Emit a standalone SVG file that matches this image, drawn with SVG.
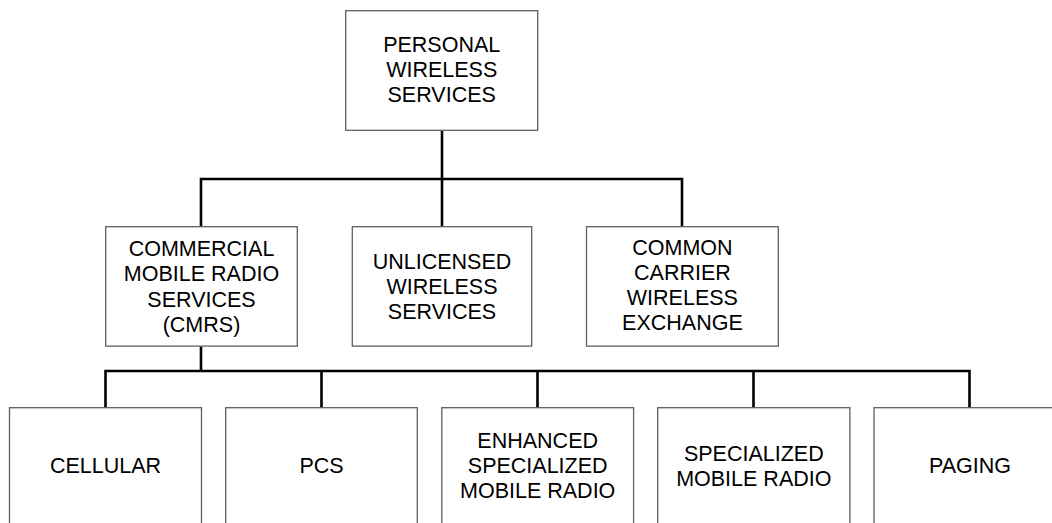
<svg xmlns="http://www.w3.org/2000/svg" width="1052" height="523" viewBox="0 0 1052 523">
<style>
.box{fill:#fff;stroke:#606060;stroke-width:1.3}
.lbl{font-family:"Liberation Sans",Arial,sans-serif;font-size:21.5px;fill:#000;text-anchor:middle}
.conn{fill:none;stroke:#000;stroke-width:2.6;stroke-linejoin:miter;stroke-linecap:butt}
</style>
<rect width="1052" height="523" fill="#fff"/>
<g id="connectors" class="conn">
<path d="M442 130.5V179M201 227V179H682V227M442 179V227"/>
<path d="M201 346.5V371M105.5 408V371H969.5V408M321.5 371V408M537.5 371V408M753.5 371V408"/>
</g>
<g id="personal-wireless-services">
<rect class="box" x="345.7" y="10.7" width="192" height="119.6"/>
<text class="lbl" x="441.7" y="52">PERSONAL</text>
<text class="lbl" x="441.7" y="77">WIRELESS</text>
<text class="lbl" x="441.7" y="102.3">SERVICES</text>
</g>
<g id="cmrs">
<rect class="box" x="105.7" y="226.7" width="191.6" height="119.4"/>
<text class="lbl" x="201.5" y="255.5">COMMERCIAL</text>
<text class="lbl" x="201.5" y="281">MOBILE RADIO</text>
<text class="lbl" x="201.5" y="306.5">SERVICES</text>
<text class="lbl" x="201.5" y="332">(CMRS)</text>
</g>
<g id="unlicensed">
<rect class="box" x="352.3" y="226.7" width="179.4" height="119.4"/>
<text class="lbl" x="442" y="268.5">UNLICENSED</text>
<text class="lbl" x="442" y="293.5">WIRELESS</text>
<text class="lbl" x="442" y="318.7">SERVICES</text>
</g>
<g id="common-carrier">
<rect class="box" x="586.5" y="226.7" width="191.8" height="119.4"/>
<text class="lbl" x="682.4" y="255">COMMON</text>
<text class="lbl" x="682.4" y="280">CARRIER</text>
<text class="lbl" x="682.4" y="304.5">WIRELESS</text>
<text class="lbl" x="682.4" y="330">EXCHANGE</text>
</g>
<g id="cellular">
<rect class="box" x="9.5" y="407.7" width="192" height="120"/>
<text class="lbl" x="105.5" y="473.4">CELLULAR</text>
</g>
<g id="pcs">
<rect class="box" x="225.7" y="407.7" width="191.6" height="120"/>
<text class="lbl" x="321.5" y="473.4">PCS</text>
</g>
<g id="esmr">
<rect class="box" x="441.8" y="407.7" width="191.8" height="120"/>
<text class="lbl" x="537.7" y="448.4">ENHANCED</text>
<text class="lbl" x="537.7" y="473.4">SPECIALIZED</text>
<text class="lbl" x="537.7" y="498.4">MOBILE RADIO</text>
</g>
<g id="smr">
<rect class="box" x="657.7" y="407.7" width="192.2" height="120"/>
<text class="lbl" x="753.8" y="460.5">SPECIALIZED</text>
<text class="lbl" x="753.8" y="486">MOBILE RADIO</text>
</g>
<g id="paging">
<rect class="box" x="874" y="407.7" width="192" height="120"/>
<text class="lbl" x="970" y="473.4">PAGING</text>
</g>
</svg>
